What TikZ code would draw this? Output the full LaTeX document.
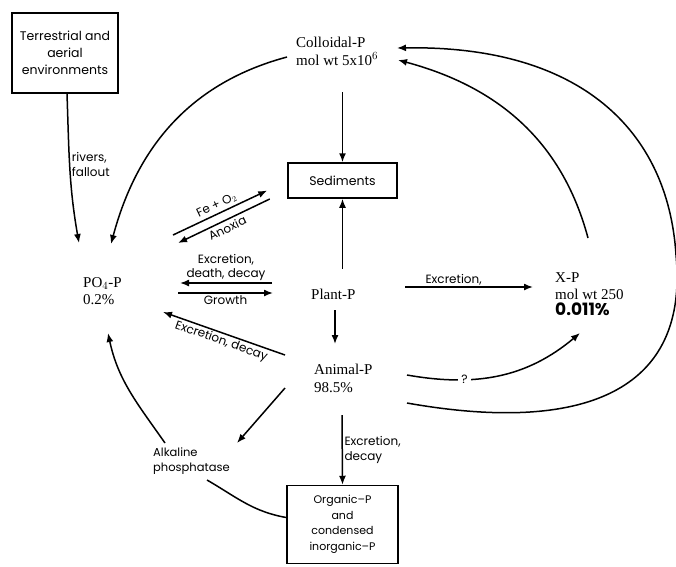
\documentclass[tikz,border=0pt]{standalone}
\usepackage{fontspec}
\usepackage{tikz}
\usetikzlibrary{calc,arrows.meta}
\setmainfont{Liberation Serif}
\newfontfamily\procfont{Poppins}
\tikzstyle{pool} = [
    inner sep=0pt,
    anchor=north west,
    align=left,
    font=\fontsize{15}{17.5}\selectfont
    ]
\tikzstyle{compbox} = [
    draw,
    line width=1.5pt,
    rectangle,
    align=center,
    font=\procfont\fontsize{12.5}{17}\selectfont
    ]
\tikzstyle{proc} = [
    font=\procfont\fontsize{12}{14.5}\selectfont,
    inner sep=1.5pt
    ]
\tikzstyle{flow} = [
    line width=1.5pt,
    -{Latex[length=9pt,width=7pt]}
    ]

\begin{document}
\begin{tikzpicture}[x=1pt,y=1pt]
\useasboundingbox (0,0) rectangle (676,-566);
% pools
\node[compbox, minimum width=106pt, minimum height=80pt] (terr) at (65,-53) {Terrestrial and\\aerial\\environments};
\node[pool] (coll) at (296,-37) {Colloidal-P\\mol wt 5x10$^6$};
\node[compbox, minimum width=109pt, minimum height=35pt] (sed) at (342.5,-180.5) {Sediments};
\node[pool] (po4) at (83,-277) {PO$_4$-P\\0.2\%};
\node[pool] (plant) at (311,-289) {Plant-P};
\node[pool] (animal) at (314,-364) {Animal-P\\98.5\%};
\node[pool] (xp) at (555,-272) {X-P\\mol wt 250\\[-2pt]{\procfont\bfseries\fontsize{17}{19}\selectfont 0.011\%}};
\node[pool, font=\procfont\fontsize{11.5}{15}\selectfont] (alk) at (153,-448) {Alkaline\\phosphatase};
\node[compbox, minimum width=111pt, minimum height=78pt, font=\procfont\fontsize{11}{15.5}\selectfont] (org) at (342.5,-524.5) {Organic–P\\and\\condensed\\inorganic–P};

% fluxes
\draw[flow] ([xshift=2pt]terr.south) to[out=-88,in=100]
    node[proc, right, pos=0.47, align=left] {rivers,\\fallout} ($(po4.north west)+(-4,34)$);
\draw[flow] ($(coll.north west)+(-9,-20)$) to[out=195,in=75] ($(po4.north west)+(28,33)$);
\draw[flow] ($(sed.north)+(0,70)$) -- (sed.north);
\draw[flow] ($(sed.south)+(0,-70)$) -- (sed.south);
\draw[flow] ($(po4.north west)+(90,42)$) -- node[proc, above=1pt, sloped] {Fe + O$_2$} ($(sed.west)+(-20,-10)$);
\draw[flow] ($(sed.west)+(-17.5,-18.5)$) -- node[proc, below=1pt, sloped] {Anoxia} ($(po4.north west)+(95,34)$);
\draw[flow] ($(plant.north west)+(-39,6)$) -- node[proc, above, align=center] {Excretion,\\death, decay} ($(po4.north west)+(97,-6)$);
\draw[flow] ($(po4.north west)+(95,-16)$) -- node[proc, below] {Growth} ($(plant.north west)+(-38,-4)$);
\draw[flow] ($(animal.north west)+(-29,9)$) -- node[proc, below, sloped] {Excretion, decay} ($(po4.north west)+(80,-35)$);
\draw[flow] ($(plant.north west)+(24,-21)$) -- ($(animal.north west)+(21,20)$);
\draw[flow] ($(plant.north west)+(94,2)$) -- node[proc, above, pos=0.38] {Excretion,} ($(xp.north west)+(-22,-15)$);
\draw[flow] ($(animal.north west)+(-29,-24)$) -- ($(alk.north west)+(84,5)$);
\draw[flow] ($(alk.north west)+(12,5)$) to[out=125,in=-78] ($(po4.north west)+(25,-56)$);
\draw[line width=1.5pt] ([yshift=7pt]org.west) to[out=170,in=-30] ($(alk.north west)+(54,-32)$);
\draw[flow] ($(animal.north west)+(28,-51)$) -- node[proc, right, align=left] {Excretion,\\decay} (org.north);
\draw[flow] ($(animal.north west)+(93,-11)$) to[out=-10,in=220]
    node[proc, pos=0.3, fill=white, inner sep=3pt] {?} ($(xp.north west)+(25,-61)$);
\draw[flow] ($(animal.north west)+(93,-39)$) .. controls (570,-432) and (690,-400) .. (676,-255)
    .. controls (668,-130) and (580,-45) .. ($(coll.north west)+(101,-11)$);
\draw[flow] ($(xp.north west)+(33,34)$) to[out=105,in=-15] ($(coll.north west)+(102,-23)$);
\end{tikzpicture}
\end{document}
